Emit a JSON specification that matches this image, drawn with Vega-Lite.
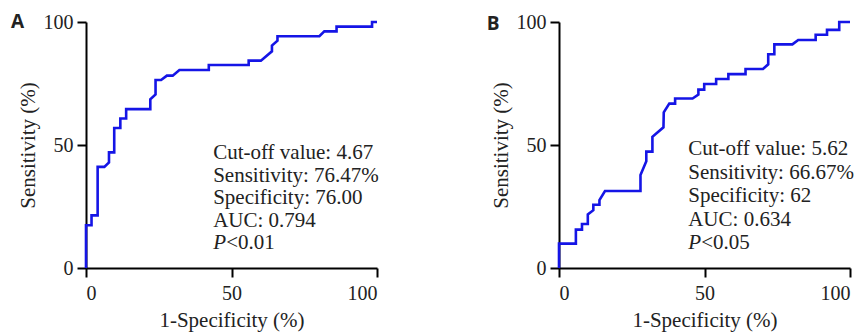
{
  "$schema": "https://vega.github.io/schema/vega-lite/v6.json",
  "padding": {"left": 10, "top": 12, "right": 0, "bottom": 2},
  "spacing": 103,
  "config": {
    "view": {"stroke": null},
    "axis": {"domainColor": "black", "domainWidth": 2, "tickColor": "black", "tickWidth": 2, "tickSize": 9, "labelFont": "Liberation Serif", "labelFontSize": 20, "labelColor": "#222", "titleFont": "Liberation Serif", "titleFontSize": 21, "titleFontWeight": "normal", "titleColor": "#222", "grid": false}
  },
  "datasets": {
    "rocA": [
      {"i":0,"x":0,"y":0},{"i":1,"x":0,"y":17.4},{"i":2,"x":1.9,"y":17.4},{"i":3,"x":1.9,"y":21.4},{"i":4,"x":4.0,"y":21.4},{"i":5,"x":4.0,"y":41.1},{"i":6,"x":6.3,"y":41.1},{"i":7,"x":7.9,"y":42.9},{"i":8,"x":7.9,"y":47.0},{"i":9,"x":9.7,"y":47.0},{"i":10,"x":9.7,"y":56.9},{"i":11,"x":11.8,"y":56.9},{"i":12,"x":11.8,"y":60.8},{"i":13,"x":13.8,"y":60.8},{"i":14,"x":13.8,"y":64.6},{"i":15,"x":22.1,"y":64.6},{"i":16,"x":22.1,"y":68.6},{"i":17,"x":23.9,"y":70.6},{"i":18,"x":23.9,"y":76.4},{"i":19,"x":25.8,"y":76.4},{"i":20,"x":27.8,"y":78.2},{"i":21,"x":29.8,"y":78.2},{"i":22,"x":32.1,"y":80.5},{"i":23,"x":42.2,"y":80.5},{"i":24,"x":42.2,"y":82.5},{"i":25,"x":55.9,"y":82.5},{"i":26,"x":55.9,"y":84.3},{"i":27,"x":60.1,"y":84.3},{"i":28,"x":63.9,"y":88.1},{"i":29,"x":63.9,"y":90.4},{"i":30,"x":65.8,"y":92.4},{"i":31,"x":65.8,"y":94.2},{"i":32,"x":80.2,"y":94.2},{"i":33,"x":81.9,"y":96.2},{"i":34,"x":86.1,"y":96.2},{"i":35,"x":86.1,"y":98.1},{"i":36,"x":98.3,"y":98.1},{"i":37,"x":98.3,"y":100},{"i":38,"x":100,"y":100}
    ],
    "rocB": [
      {"i":0,"x":0,"y":0},{"i":1,"x":0,"y":9.9},{"i":2,"x":5.8,"y":9.9},{"i":3,"x":5.8,"y":15.6},{"i":4,"x":7.9,"y":15.6},{"i":5,"x":7.9,"y":17.9},{"i":6,"x":9.9,"y":17.9},{"i":7,"x":9.9,"y":21.8},{"i":8,"x":11.8,"y":23.5},{"i":9,"x":11.8,"y":25.7},{"i":10,"x":13.9,"y":25.7},{"i":11,"x":13.9,"y":27.6},{"i":12,"x":15.8,"y":31.3},{"i":13,"x":28.0,"y":31.3},{"i":14,"x":28.0,"y":37.8},{"i":15,"x":30.0,"y":43.4},{"i":16,"x":30.0,"y":47.3},{"i":17,"x":32.1,"y":47.3},{"i":18,"x":32.1,"y":53.3},{"i":19,"x":35.9,"y":57.2},{"i":20,"x":36.0,"y":63.3},{"i":21,"x":37.9,"y":66.8},{"i":22,"x":39.9,"y":66.8},{"i":23,"x":39.9,"y":68.9},{"i":24,"x":45.9,"y":68.9},{"i":25,"x":47.9,"y":70.5},{"i":26,"x":47.9,"y":72.5},{"i":27,"x":49.9,"y":72.5},{"i":28,"x":49.9,"y":74.8},{"i":29,"x":54.0,"y":74.8},{"i":30,"x":54.0,"y":76.8},{"i":31,"x":58.2,"y":76.8},{"i":32,"x":58.2,"y":78.8},{"i":33,"x":64.1,"y":78.8},{"i":34,"x":64.1,"y":80.9},{"i":35,"x":70.1,"y":80.9},{"i":36,"x":71.9,"y":82.8},{"i":37,"x":71.9,"y":86.9},{"i":38,"x":74.0,"y":86.9},{"i":39,"x":74.0,"y":90.9},{"i":40,"x":80.2,"y":90.9},{"i":41,"x":82.2,"y":92.7},{"i":42,"x":88.2,"y":92.7},{"i":43,"x":88.2,"y":94.8},{"i":44,"x":92.1,"y":94.8},{"i":45,"x":92.1,"y":96.8},{"i":46,"x":96.3,"y":96.8},{"i":47,"x":96.3,"y":100},{"i":48,"x":100,"y":100}
    ],
    "txtA": [
      {"x":43.7,"y":44.5,"t":"Cut-off value: 4.67"},
      {"x":43.7,"y":35.0,"t":"Sensitivity: 76.47%"},
      {"x":43.7,"y":25.9,"t":"Specificity: 76.00"},
      {"x":43.7,"y":16.7,"t":"AUC: 0.794"}
    ],
    "pA": [{"x":43.7,"y":7.9,"p":"P","t":"<0.01"}],
    "labA": [{"x":-25.8,"y":97.4,"t":"A"}],
    "txtB": [
      {"x":44.4,"y":45.8,"t":"Cut-off value: 5.62"},
      {"x":44.4,"y":36.3,"t":"Sensitivity: 66.67%"},
      {"x":44.4,"y":26.9,"t":"Specificity: 62"},
      {"x":44.4,"y":17.0,"t":"AUC: 0.634"}
    ],
    "pB": [{"x":44.4,"y":7.6,"p":"P","t":"<0.05"}],
    "labB": [{"x":-24.8,"y":96.9,"t":"B"}]
  },
  "hconcat": [
    {
      "width": 291,
      "height": 246,
      "layer": [
        {
          "data": {"name": "rocA"},
          "mark": {"type": "line", "color": "#1515e6", "strokeWidth": 2.6, "strokeJoin": "miter"},
          "encoding": {
            "x": {"field": "x", "type": "quantitative", "scale": {"domain": [0, 100], "nice": false}, "axis": {"values": [0, 50, 100], "title": "1-Specificity (%)", "labelFont": "Liberation Serif", "labelFontSize": 20, "titleFont": "Liberation Serif", "titleFontSize": 21, "labelPadding": 6, "titlePadding": 6}},
            "y": {"field": "y", "type": "quantitative", "scale": {"domain": [0, 100], "nice": false}, "axis": {"values": [0, 50, 100], "title": "Sensitivity (%)", "labelFont": "Liberation Serif", "labelFontSize": 20, "titleFont": "Liberation Serif", "titleFontSize": 21, "labelPadding": 4, "titlePadding": 5}},
            "order": {"field": "i", "type": "quantitative"}
          }
        },
        {
          "data": {"name": "txtA"},
          "mark": {"type": "text", "align": "left", "baseline": "alphabetic", "font": "Liberation Serif", "fontSize": 21, "color": "#222"},
          "encoding": {
            "x": {"field": "x", "type": "quantitative"},
            "y": {"field": "y", "type": "quantitative"},
            "text": {"field": "t"}
          }
        },
        {
          "data": {"name": "pA"},
          "mark": {"type": "text", "align": "left", "baseline": "alphabetic", "font": "Liberation Serif", "fontSize": 21, "fontStyle": "italic", "color": "#222"},
          "encoding": {
            "x": {"field": "x", "type": "quantitative"},
            "y": {"field": "y", "type": "quantitative"},
            "text": {"field": "p"}
          }
        },
        {
          "data": {"name": "pA"},
          "mark": {"type": "text", "align": "left", "baseline": "alphabetic", "font": "Liberation Serif", "fontSize": 21, "color": "#222", "dx": 13},
          "encoding": {
            "x": {"field": "x", "type": "quantitative"},
            "y": {"field": "y", "type": "quantitative"},
            "text": {"field": "t"}
          }
        },
        {
          "data": {"name": "labA"},
          "mark": {"type": "text", "align": "left", "baseline": "alphabetic", "font": "Open Sans", "fontSize": 19, "fontWeight": "bold", "color": "#222"},
          "encoding": {
            "x": {"field": "x", "type": "quantitative"},
            "y": {"field": "y", "type": "quantitative"},
            "text": {"field": "t"}
          }
        }
      ]
    },
    {
      "width": 291,
      "height": 246,
      "layer": [
        {
          "data": {"name": "rocB"},
          "mark": {"type": "line", "color": "#1515e6", "strokeWidth": 2.6, "strokeJoin": "miter"},
          "encoding": {
            "x": {"field": "x", "type": "quantitative", "scale": {"domain": [0, 100], "nice": false}, "axis": {"values": [0, 50, 100], "title": "1-Specificity (%)", "labelFont": "Liberation Serif", "labelFontSize": 20, "titleFont": "Liberation Serif", "titleFontSize": 21, "labelPadding": 6, "titlePadding": 6}},
            "y": {"field": "y", "type": "quantitative", "scale": {"domain": [0, 100], "nice": false}, "axis": {"values": [0, 50, 100], "title": "Sensitivity (%)", "labelFont": "Liberation Serif", "labelFontSize": 20, "titleFont": "Liberation Serif", "titleFontSize": 21, "labelPadding": 4, "titlePadding": 5}},
            "order": {"field": "i", "type": "quantitative"}
          }
        },
        {
          "data": {"name": "txtB"},
          "mark": {"type": "text", "align": "left", "baseline": "alphabetic", "font": "Liberation Serif", "fontSize": 21, "color": "#222"},
          "encoding": {
            "x": {"field": "x", "type": "quantitative"},
            "y": {"field": "y", "type": "quantitative"},
            "text": {"field": "t"}
          }
        },
        {
          "data": {"name": "pB"},
          "mark": {"type": "text", "align": "left", "baseline": "alphabetic", "font": "Liberation Serif", "fontSize": 21, "fontStyle": "italic", "color": "#222"},
          "encoding": {
            "x": {"field": "x", "type": "quantitative"},
            "y": {"field": "y", "type": "quantitative"},
            "text": {"field": "p"}
          }
        },
        {
          "data": {"name": "pB"},
          "mark": {"type": "text", "align": "left", "baseline": "alphabetic", "font": "Liberation Serif", "fontSize": 21, "color": "#222", "dx": 13},
          "encoding": {
            "x": {"field": "x", "type": "quantitative"},
            "y": {"field": "y", "type": "quantitative"},
            "text": {"field": "t"}
          }
        },
        {
          "data": {"name": "labB"},
          "mark": {"type": "text", "align": "left", "baseline": "alphabetic", "font": "Open Sans", "fontSize": 19, "fontWeight": "bold", "color": "#222"},
          "encoding": {
            "x": {"field": "x", "type": "quantitative"},
            "y": {"field": "y", "type": "quantitative"},
            "text": {"field": "t"}
          }
        }
      ]
    }
  ]
}
